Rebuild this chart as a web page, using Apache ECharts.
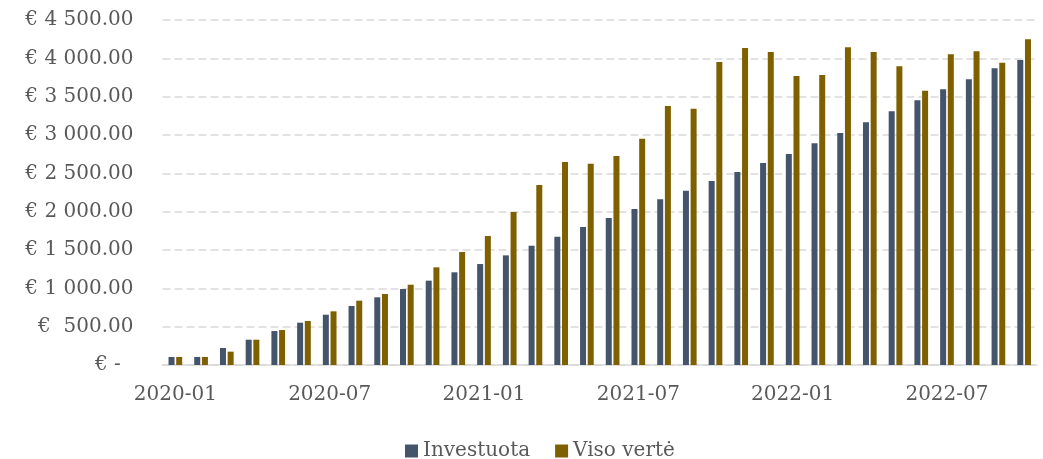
<!DOCTYPE html>
<html>
<head>
<meta charset="utf-8">
<script src="https://cdn.jsdelivr.net/npm/echarts@6/dist/echarts.min.js"></script>
<style>
  html, body { margin: 0; padding: 0; background: #fff; }
  #chart { width: 1043px; height: 459px; }
</style>
</head>
<body>
<div id="chart"></div>
<script>
// Months, 2020-01 .. 2022-10
const months = [
  '2020-01', '2020-02', '2020-03', '2020-04', '2020-05', '2020-06',
  '2020-07', '2020-08', '2020-09', '2020-10', '2020-11', '2020-12',
  '2021-01', '2021-02', '2021-03', '2021-04', '2021-05', '2021-06',
  '2021-07', '2021-08', '2021-09', '2021-10', '2021-11', '2021-12',
  '2022-01', '2022-02', '2022-03', '2022-04', '2022-05', '2022-06',
  '2022-07', '2022-08', '2022-09', '2022-10'
];

// Investuota (invested, cumulative)
const invested = [
  105, 105, 222, 330, 443, 552, 656, 770, 883, 991, 1100, 1209,
  1317, 1430, 1556, 1674, 1800, 1917, 2035, 2161, 2274, 2400, 2517, 2635,
  2752, 2891, 3026, 3165, 3309, 3452, 3596, 3726, 3870, 3978
];

// Viso vertė (total value)
const totalValue = [
  105, 105, 174, 330, 456, 574, 700, 839, 926, 1047, 1274, 1474,
  1683, 1996, 2348, 2648, 2626, 2726, 2952, 3378, 3343, 3952, 4135, 4083,
  3770, 3783, 4143, 4083, 3896, 3578, 4052, 4091, 3943, 4248
];

const FONT = 'DejaVu Serif';
const TEXT = '#595959';

function euro(value) {
  if (value === 0) return '€ -  ';
  const [intPart, dec] = value.toFixed(2).split('.');
  const grouped = intPart.replace(/\B(?=(\d{3})+(?!\d))/g, ' ');
  return (value < 1000 ? '€  ' : '€ ') + grouped + '.' + dec;
}

const chart = echarts.init(document.getElementById('chart'));

chart.setOption({
  animation: false,
  color: ['#44546A', '#7F6000'],
  grid: {
    left: 162.5,
    right: 6,
    top: 20,
    bottom: 94,
    containLabel: false
  },
  legend: {
    left: 400,
    top: 436,
    itemWidth: 13,
    itemHeight: 13,
    itemGap: 25,
    icon: 'rect',
    textStyle: { fontFamily: FONT, fontSize: 20, color: TEXT },
    data: ['Investuota', 'Viso vertė']
  },
  xAxis: {
    type: 'category',
    data: months,
    boundaryGap: true,
    axisLine: { lineStyle: { color: '#D9D9D9', width: 1.5 } },
    axisTick: { interval: 5, length: 7, lineStyle: { color: '#D9D9D9', width: 1.5 } },
    axisLabel: {
      interval: 5,
      margin: 20,
      fontFamily: FONT,
      fontSize: 20,
      color: TEXT
    }
  },
  yAxis: {
    type: 'value',
    min: 0,
    max: 4500,
    interval: 500,
    axisLine: { show: false },
    axisTick: { show: false },
    axisLabel: {
      formatter: euro,
      margin: 29,
      fontFamily: FONT,
      fontSize: 20,
      color: TEXT
    },
    splitLine: {
      lineStyle: { color: '#D9D9D9', width: 1.5, type: [8, 4] }
    }
  },
  series: [
    {
      name: 'Investuota',
      type: 'bar',
      data: invested,
      barWidth: 6,
      barGap: '28%'
    },
    {
      name: 'Viso vertė',
      type: 'bar',
      data: totalValue,
      barWidth: 6
    }
  ]
});
</script>
</body>
</html>
